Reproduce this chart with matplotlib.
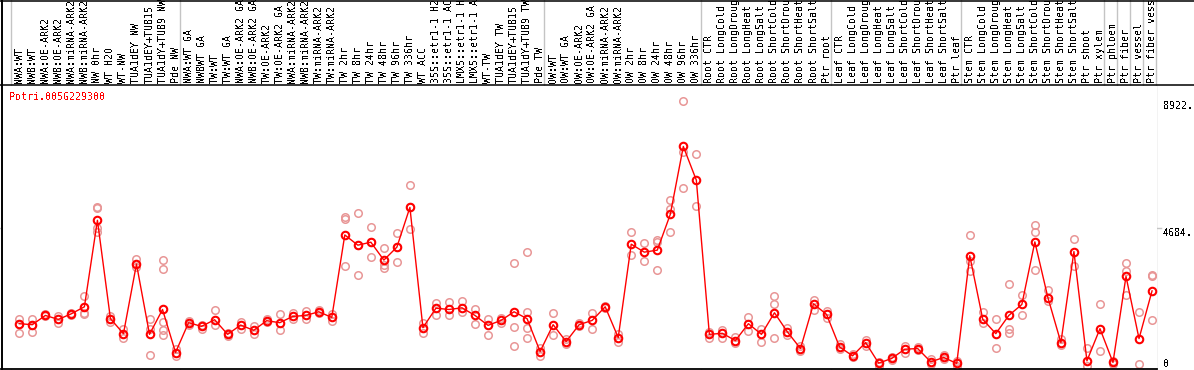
import matplotlib
matplotlib.use("Agg")
import matplotlib.pyplot as plt
from matplotlib.lines import Line2D
from matplotlib.transforms import blended_transform_factory
import numpy as np

title = "Potri.005G229300"

labels = [
    "NWA:WT", "NWB:WT", "NWA:OE-ARK2", "NWB:OE-ARK2", "NWA:miRNA-ARK2", "NWB:miRNA-ARK2",
    "NW 0hr", "WT H2O", "WT-NW", "TUA1dEY NW", "TUA1dEY+TUB15", "TUA1dY+TUB9 NW", "Pde NW",
    "NWA:WT GA", "NWBWT GA", "TW:WT", "TW:WT GA", "NWA:OE-ARK2 GA", "NWB:OE-ARK2 GA",
    "TW:OE-ARK2", "TW:OE-ARK2 GA", "NWA:miRNA-ARK2", "NWB:miRNA-ARK2", "TW:miRNA-ARK2",
    "TW:miRNA-ARK2", "TW 2hr", "TW 8hr", "TW 24hr", "TW 48hr", "TW 96hr", "TW 336hr",
    "WT ACC", "35S::etr1-1 H2", "35S::etr1-1 AC", "LMX5::etr1-1 H", "LMX5::etr1-1 A",
    "WT-TW", "TUA1dEY TW", "TUA1dEY+TUB15", "TUA1dY+TUB9 TW", "Pde TW",
    "OW:WT", "OW:WT GA", "OW:OE-ARK2", "OW:OE-ARK2 GA", "OW:miRNA-ARK2", "OW:miRNA-ARK2",
    "OW 2hr", "OW 8hr", "OW 24hr", "OW 48hr", "OW 96hr", "OW 336hr",
    "Root CTR", "Root LongCold", "Root LongDroug", "Root LongHeat", "Root LongSalt",
    "Root ShortCold", "Root ShortDrou", "Root ShortHeat", "Root ShortSalt", "Ptr root",
    "Leaf CTR", "Leaf LongCold", "Leaf LongDroug", "Leaf LongHeat", "Leaf LongSalt",
    "Leaf ShortCold", "Leaf ShortDrou", "Leaf ShortHeat", "Leaf ShortSalt", "Ptr leaf",
    "Stem CTR", "Stem LongCold", "Stem LongDroug", "Stem LongHeat", "Stem LongSalt",
    "Stem ShortCold", "Stem ShortDrou", "Stem ShortHeat", "Stem ShortSalt", "Ptr shoot",
    "Ptr xylem", "Ptr phloem", "Ptr fiber", "Ptr vessel", "Ptr fiber vess",
]

group_sizes = [13, 28, 12, 10, 10, 11, 1, 1, 1, 1]

means = [
    1508, 1475, 1783, 1651, 1839, 2071, 4949, 1674, 1177, 3493, 1154, 1981, 549,
    1541, 1419, 1641, 1154, 1463, 1287, 1608, 1541, 1750, 1783, 1905, 1717,
    4462, 4122, 4221, 3626, 4056, 5379, 1376, 2025, 1981, 2037, 1783,
    1452, 1618, 1905, 1674, 582,
    1475, 913, 1475, 1618, 2071, 1045, 4155, 3890, 3956, 5147, 7407, 6285,
    1154, 1188, 946, 1508, 1154, 1872, 1231, 681, 2170, 1816,
    735, 438, 880, 195, 350, 658, 681, 239, 384, 185,
    3771, 1651, 1177, 1783, 2147, 4231, 2379, 880, 3910, 271,
    1343, 218, 3083, 1012, 2600,
]

replicates = [
    [1650, 1508, 1210], [1674, 1475, 1234], [1816, 1761], [1761, 1518], [1872, 1806],
    [2445, 1872, 1816], [5379, 5346, 4684, 4574], [1761, 1562], [1343, 1034], [3659, 3394],
    [1650, 1343, 461], [3637, 3328, 1562, 1297, 1122], [658, 438],
    [1594, 1462], [1452, 1343], [1950, 1452], [1210, 1100], [1562, 1343], [1430, 1155],
    [1650, 1562], [1816, 1287], [1872, 1650], [1927, 1650], [1960, 1872], [1816, 1594],
    [5069, 4981, 3415], [5180, 3118, 4120], [4716, 3724, 4221], [4022, 3471, 3361],
    [4519, 3559, 4055], [6138, 4651, 5379], [1518, 1210], [2203, 1784], [2236, 1795],
    [2247, 1905], [1981, 1485], [1650, 1121], [1706, 1540], [3526, 1409, 769],
    [3889, 1892, 1374, 1045], [713, 437],
    [1870, 1131], [1011, 824], [1520, 1430], [1870, 1319], [2091, 2036], [1153, 911],
    [4551, 3801], [4187, 3581], [4297, 3305, 4242], [5620, 5311, 4551], [8922, 7220, 6040],
    [7146, 5426],
    [1232, 1045], [1298, 1034], [1067, 880], [1717, 1265], [1320, 902], [2445, 2170, 1045],
    [1353, 1122], [768, 603], [2313, 1950], [1927, 1706],
    [823, 658], [493, 383], [966, 768], [239, 106], [383, 306], [768, 526], [735, 636],
    [328, 152], [460, 328], [273, 106],
    [4462, 3580, 3250], [1905, 1518], [1672, 713], [2829, 1320, 1210], [2478, 1784],
    [4793, 4551, 3305], [2643, 2258], [1012, 791], [4320, 3437], [713, 106],
    [2170, 603], [273, 163], [3526, 3250, 2478], [1905, 163], [3118, 3085, 1617],
]

ytick_values = [0, 4684, 8922]
ytick_labels = ["0", "4684.", "8922."]

W, H = 1194, 370
fig = plt.figure(figsize=(W / 100, H / 100), dpi=100)

# axes geometry (pixels)
ax_left_px, ax_right_px = 1.5, 1157
ax_bottom_px, ax_top_px = 369, 86
ax = fig.add_axes([ax_left_px / W, (H - ax_bottom_px) / H,
                   (ax_right_px - ax_left_px) / W, (ax_bottom_px - ax_top_px) / H])

x0_px, dx_px = 19.3, 13.02
ax.set_xlim((ax_left_px - x0_px) / dx_px, (ax_right_px - x0_px) / dx_px)
ax.set_ylim(0, 9420)
ax.set_xticks([])
ax.set_yticks([])
for s in ["top", "right", "left"]:
    ax.spines[s].set_visible(False)
ax.spines["bottom"].set_color("black")
ax.spines["bottom"].set_linewidth(1.3)

n = len(labels)
x = np.arange(n)

grid_color = "#c4c4c4"
ytr = blended_transform_factory(fig.transFigure, ax.transData)
fig.add_artist(Line2D([0, 1161 / W], [ytick_values[1], ytick_values[1]], transform=ytr,
                      color=grid_color, lw=1.0, zorder=0))

# group separators spanning whole figure height
starts = np.concatenate([[0], np.cumsum(group_sizes)])
sep_positions = starts - 0.67
tr = blended_transform_factory(ax.transData, fig.transFigure)
for sx in sep_positions:
    fig.add_artist(Line2D([sx, sx], [1 / H, 1.0], transform=tr, color=grid_color, lw=1.0, zorder=0))

# frame lines
fig.add_artist(Line2D([0, 1], [1 - 85 / H, 1 - 85 / H], transform=fig.transFigure, color="black", lw=1.1))
fig.add_artist(Line2D([0, 1], [1 - 0.5 / H, 1 - 0.5 / H], transform=fig.transFigure, color="black", lw=1.1))
fig.add_artist(Line2D([1.5 / W, 1.5 / W], [0, 1], transform=fig.transFigure, color="black", lw=1.4))

# replicates
rx, ry = [], []
for i, reps in enumerate(replicates):
    for v in reps:
        rx.append(i)
        ry.append(v)
ax.plot(rx, ry, linestyle="none", marker="o", ms=5.4, mfc="none", mec="#e89696", mew=1.1, zorder=2,
        clip_on=False)

# mean line
ax.plot(x, means, color="#ff0000", lw=1.0, marker="o", ms=5.4, mfc="none", mec="#ff0000", mew=1.5,
        zorder=3, clip_on=False)

font = dict(family="DejaVu Sans Mono", size=7.2, antialiased=False)

# category labels
for i, lab in enumerate(labels):
    ax.text(i, 1 - 83 / H, lab, transform=tr, rotation=90, ha="center", va="bottom", **font)

# title
fig.text(9.3 / W, 1 - 97 / H, title, color="#ff0000", ha="left", va="center", **font)

# value labels on the right
for v, t in zip(ytick_values, ytick_labels):
    fig.text(1163 / W, v, t, transform=ytr, ha="left", va="bottom" if v == 0 else "top", **font)

fig.savefig("out.png", dpi=100)
